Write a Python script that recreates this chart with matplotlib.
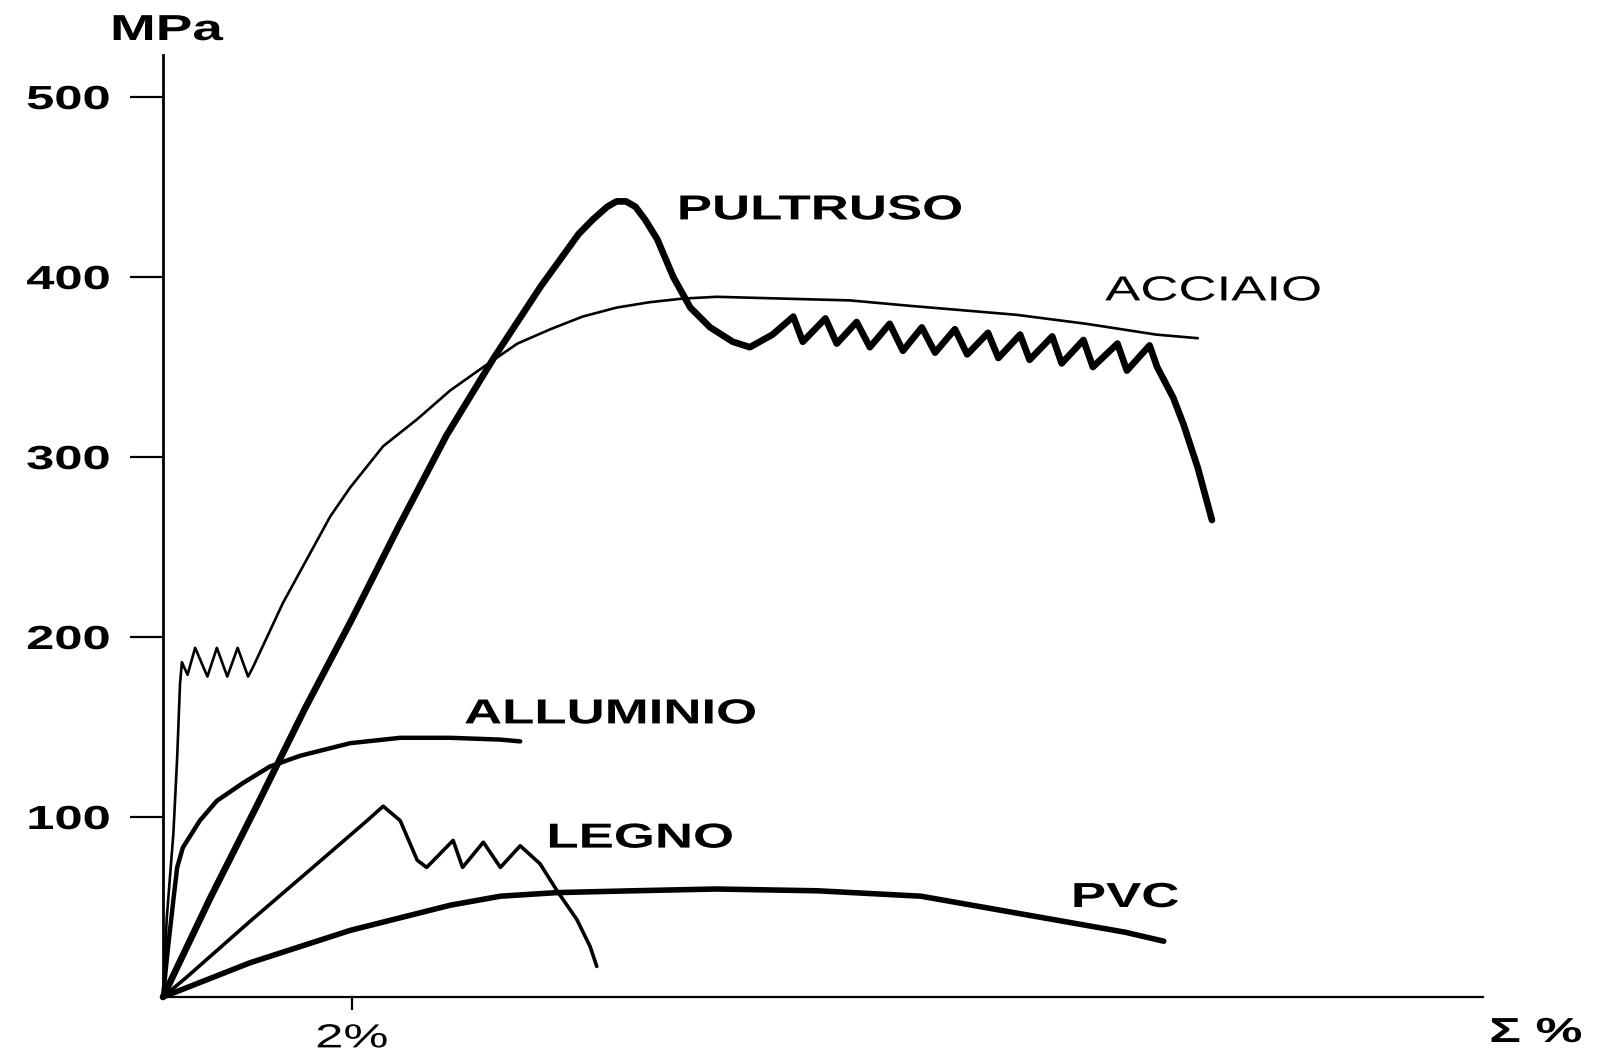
import matplotlib
matplotlib.use("Agg")
import matplotlib.pyplot as plt
from matplotlib.patheffects import AbstractPathEffect
from matplotlib.transforms import Affine2D

# ---------------- data (strain %, stress MPa) ----------------
acciaio_x = [0, 0.04, 0.11, 0.15, 0.18, 0.20, 0.26, 0.34, 0.47, 0.57, 0.68, 0.79, 0.90, 0.95,
             1.27, 1.52, 1.77, 1.98, 2.33, 2.69, 3.04, 3.39, 3.75, 4.10, 4.44, 4.80, 5.15,
             5.50, 5.86, 6.56, 7.27, 7.90, 9.03, 9.77, 10.51, 10.95]
acciaio_y = [0, 44, 91, 133, 174, 186, 179, 194, 178, 194, 178, 194, 178, 183,
             219, 243, 267, 283, 306, 321, 337, 350, 363, 371, 378, 383, 386,
             388, 389, 388, 387, 384, 379, 374, 368, 366]

pultruso_x = [0, 0.5, 1.0, 1.5, 2.0, 2.5, 3.0, 3.5, 4.0, 4.4, 4.55, 4.70, 4.80, 4.90, 5.00,
              5.10, 5.23, 5.40, 5.58, 5.79, 6.03, 6.21, 6.45,
              6.67, 6.77, 7.01, 7.13, 7.34, 7.48, 7.69, 7.83, 8.03, 8.17, 8.38, 8.51,
              8.73, 8.84, 9.07, 9.17, 9.41, 9.51, 9.74, 9.84, 10.10, 10.20, 10.44,
              10.52, 10.69, 10.80, 10.95, 11.10]
pultruso_y = [0, 55, 107, 160, 210, 262, 312, 355, 395, 424, 432, 439, 442, 442, 439,
              432, 421, 400, 383, 372, 364, 361, 368,
              378, 364, 377, 363, 375, 361, 374, 359, 372, 358, 371, 357,
              369, 355, 368, 354, 367, 352, 365, 350, 363, 348, 362,
              350, 333, 318, 294, 265]

alluminio_x = [0, 0.05, 0.11, 0.15, 0.21, 0.39, 0.57, 0.85, 1.13, 1.45, 1.98, 2.51, 3.04, 3.57, 3.78]
alluminio_y = [0, 26, 54, 72, 83, 98, 109, 119, 128, 134, 141, 144, 144, 143, 142]

legno_x = [0, 0.25, 0.92, 1.63, 2.16, 2.33, 2.51, 2.69, 2.79, 3.07, 3.17, 3.39, 3.57, 3.78,
           3.99, 4.17, 4.38, 4.52, 4.59]
legno_y = [0, 11, 42, 74, 98, 106, 98, 76, 72, 87, 72, 86, 72, 84,
           74, 59, 43, 28, 17]

pvc_x = [0, 0.92, 1.45, 1.98, 2.51, 3.04, 3.57, 4.17, 4.97, 5.85, 6.93, 8.02, 9.10, 10.18, 10.59]
pvc_y = [0, 19, 28, 37, 44, 51, 56, 58, 59, 60, 59, 56, 46, 36, 31]

y_ticks = [100, 200, 300, 400, 500]
y_tick_labels = ["100", "200", "300", "400", "500"]
x_ticks = [2]
x_tick_labels = ["2%"]

curve_names = ["PULTRUSO", "ACCIAIO", "ALLUMINIO", "LEGNO", "PVC"]


# ---------------- horizontal text stretch (original lettering is wide) ----------------
class HStretch(AbstractPathEffect):
    def __init__(self, sx=1.5, anchor="left"):
        super().__init__()
        self.sx = sx
        self.anchor = anchor

    def draw_path(self, renderer, gc, tpath, affine, rgbFace=None):
        ext = tpath.get_extents(affine)
        if self.anchor == "right":
            x0 = ext.x1
        elif self.anchor == "center":
            x0 = 0.5 * (ext.x0 + ext.x1)
        else:
            x0 = ext.x0
        aff = affine + Affine2D().translate(-x0, 0).scale(self.sx, 1).translate(x0, 0)
        renderer.draw_path(gc, tpath, aff, rgbFace)


SX = 1.52
plt.rcParams["font.family"] = ["Liberation Sans", "DejaVu Sans"]

W, H = 1604, 1052
fig = plt.figure(figsize=(W / 100, H / 100), dpi=100)
ax_l, ax_r, ax_b, ax_t = 163, 1483, 997, 55
ax = fig.add_axes([ax_l / W, 1 - ax_b / H, (ax_r - ax_l) / W, (ax_b - ax_t) / H])
ax.set_xlim(0, (ax_r - ax_l) / 94.5)
ax.set_ylim(0, (ax_b - ax_t) / 1.8)

for s in ["top", "right"]:
    ax.spines[s].set_visible(False)
ax.spines["left"].set_linewidth(2.0)
ax.spines["bottom"].set_linewidth(1.6)

kw = dict(color="black", solid_joinstyle="round", solid_capstyle="round", clip_on=False)
ax.plot(pvc_x, pvc_y, lw=4.0, **kw)
ax.plot(legno_x, legno_y, lw=2.6, **kw)
ax.plot(alluminio_x, alluminio_y, lw=3.2, **kw)
ax.plot(acciaio_x, acciaio_y, lw=1.9, **kw)
ax.plot(pultruso_x, pultruso_y, lw=4.8, **kw)

# ticks
ax.set_yticks(y_ticks, y_tick_labels)
ax.set_xticks(x_ticks, x_tick_labels)
ax.tick_params(axis="y", direction="out", length=24, width=1.6, pad=14, labelsize=24)
ax.tick_params(axis="x", direction="out", length=9, width=1.6, pad=10, labelsize=24)
for lbl in ax.get_yticklabels():
    lbl.set_fontweight("bold")
    lbl.set_path_effects([HStretch(SX, "right")])
for lbl in ax.get_xticklabels():
    lbl.set_path_effects([HStretch(SX, "center")])

# curve labels (data coords of left/baseline)
label_pos = {
    "PULTRUSO": (5.45, 432, "bold"),
    "ACCIAIO": (9.97, 387, "normal"),
    "ALLUMINIO": (3.19, 152, "bold"),
    "LEGNO": (4.07, 83, "bold"),
    "PVC": (9.62, 50, "bold"),
}
for name in curve_names:
    x, y, wgt = label_pos[name]
    ax.text(x, y, name, fontsize=25, fontweight=wgt, ha="left", va="baseline",
            path_effects=[HStretch(SX, "left")])

# axis titles
fig.text(167 / W, 1 - 40 / H, "MPa", fontsize=26, fontweight="bold", ha="center",
         va="baseline", path_effects=[HStretch(SX, "center")])
fig.text(1490 / W, 1 - 1042 / H, "Σ %", fontsize=25, fontweight="bold", ha="left",
         va="baseline", path_effects=[HStretch(SX, "left")])

fig.savefig("out.png", dpi=100, facecolor="white")
